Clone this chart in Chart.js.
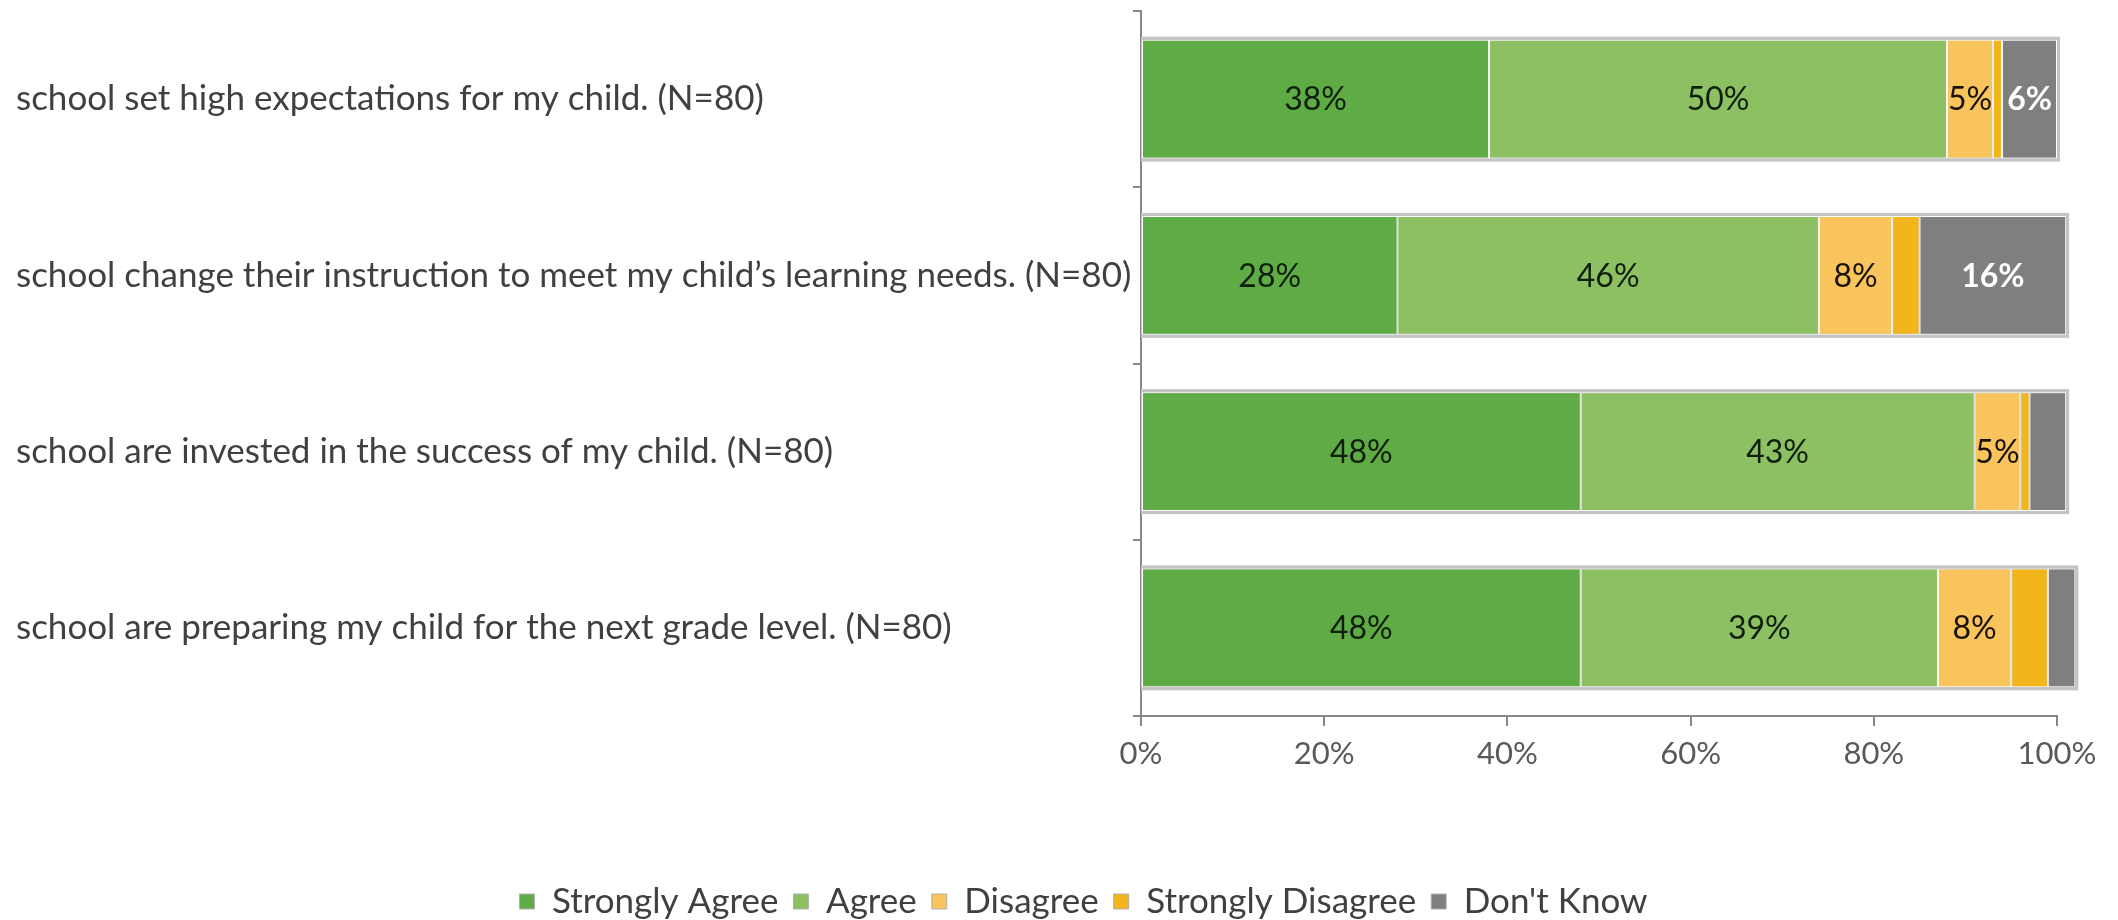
<!DOCTYPE html>
<html>
<head>
<meta charset="utf-8">
<script src="https://cdn.jsdelivr.net/npm/chart.js@4.4.1/dist/chart.umd.min.js"></script>
<style>
  html, body { margin: 0; padding: 0; background: #fff; }
  #wrap { width: 2118px; height: 920px; }
</style>
</head>
<body>
<div id="wrap"><canvas id="surveyChart" width="2118" height="920"></canvas></div>
<script>
// Survey statements (y axis)
const categories = [
  'school set high expectations for my child. (N=80)',
  'school change their instruction to meet my child\u2019s learning needs. (N=80)',
  'school are invested in the success of my child. (N=80)',
  'school are preparing my child for the next grade level. (N=80)'
];

// Response series, percent of respondents
const seriesNames = ['Strongly Agree', 'Agree', 'Disagree', 'Strongly Disagree', "Don't Know"];
const stronglyAgree    = [38, 28, 48, 48];
const agree            = [50, 46, 43, 39];
const disagree         = [5, 8, 5, 8];
const stronglyDisagree = [1, 3, 1, 4];
const dontKnow         = [6, 16, 4, 3];

const xTicks = [0, 20, 40, 60, 80, 100];

// styling
const fillColors  = ['#5fab45', '#8cc063', '#f9c45c', '#f2b51c', '#7f7f7f'];
const labelColors = ['#0f1f0c', '#0f1f0c', '#1a1208', '#1a1208', '#ffffff'];
const FONT = 'Lato, Carlito, "Open Sans", sans-serif';
const axisGray = '#888888';

const seriesData = [stronglyAgree, agree, disagree, stronglyDisagree, dontKnow];

// light grey frame behind each whole bar
const barFrame = {
  id: 'barFrame',
  beforeDatasetsDraw(chart) {
    const ctx = chart.ctx;
    const first = chart.getDatasetMeta(0).data;
    const last = chart.getDatasetMeta(seriesData.length - 1).data;
    ctx.save();
    ctx.fillStyle = '#c4c4c4';
    first.forEach((bar, j) => {
      const p0 = bar.getProps(['base', 'y', 'height'], true);
      const p1 = last[j].getProps(['x'], true);
      ctx.fillRect(p0.base - 1, p0.y - p0.height / 2 - 3, p1.x - p0.base + 4, p0.height + 6);
    });
    ctx.restore();
  }
};

// percent labels in the segments
const barLabels = {
  id: 'barLabels',
  afterDatasetsDraw(chart) {
    const ctx = chart.ctx;
    ctx.save();
    ctx.textAlign = 'center';
    ctx.textBaseline = 'middle';
    chart.data.datasets.forEach((ds, i) => {
      const meta = chart.getDatasetMeta(i);
      meta.data.forEach((bar, j) => {
        const v = ds.data[j];
        if (v < 5) return;
        const p = bar.getProps(['x', 'y', 'base'], true);
        ctx.fillStyle = labelColors[i];
        ctx.font = (i === 4 ? 'bold ' : '') + '32px ' + FONT;
        ctx.fillText(v + '%', (p.x + p.base) / 2, p.y + 1);
      });
    });
    ctx.restore();
  }
};

// the legend sits a bit right of the canvas centre in the original
const legendShift = {
  id: 'legendShift',
  afterLayout(chart) {
    if (chart.legend) {
      chart.legend.left += 47;
      chart.legend.right += 47;
    }
  }
};

const ctx = document.getElementById('surveyChart').getContext('2d');
new Chart(ctx, {
  type: 'bar',
  data: {
    labels: categories,
    datasets: seriesNames.map((name, i) => ({
      label: name,
      data: seriesData[i],
      backgroundColor: fillColors[i],
      borderColor: '#ffffff',
      borderWidth: 1,
      borderSkipped: false,
      barPercentage: 0.675,
      categoryPercentage: 1,
      clip: false
    }))
  },
  options: {
    indexAxis: 'y',
    responsive: false,
    animation: false,
    layout: { padding: { left: 16, top: 11, right: 61, bottom: -9 } },
    scales: {
      x: {
        stacked: true,
        min: 0,
        max: 100,
        afterBuildTicks: (scale) => { scale.ticks = xTicks.map(v => ({ value: v })); },
        afterFit: (scale) => { scale.height = 153; },
        ticks: {
          callback: (v) => v + '%',
          color: '#595959',
          font: { family: FONT, size: 31 },
          padding: 9,
          maxRotation: 0
        },
        grid: { drawOnChartArea: false, tickLength: 10, color: axisGray, lineWidth: 2 },
        border: { display: true, color: axisGray, width: 2 }
      },
      y: {
        stacked: true,
        afterFit: (scale) => {
          scale.width = 1125;
          scale.paddingTop = 0;
          scale.paddingBottom = 0;
        },
        ticks: {
          crossAlign: 'far',
          color: '#404040',
          font: { family: FONT, size: 35 }
        },
        grid: { drawOnChartArea: false, tickLength: 8, color: axisGray, lineWidth: 2, offset: true },
        border: { display: true, color: axisGray, width: 2 }
      }
    },
    plugins: {
      tooltip: { enabled: false },
      legend: {
        position: 'bottom',
        labels: {
          color: '#404040',
          font: { family: FONT, size: 35 },
          boxWidth: 15,
          boxHeight: 15,
          padding: 15,
          generateLabels: (chart) => {
            const items = Chart.defaults.plugins.legend.labels.generateLabels(chart);
            items.forEach(it => { it.strokeStyle = '#b0b0b0'; it.lineWidth = 1; });
            return items;
          }
        }
      }
    }
  },
  plugins: [barFrame, barLabels, legendShift]
});
</script>
</body>
</html>
